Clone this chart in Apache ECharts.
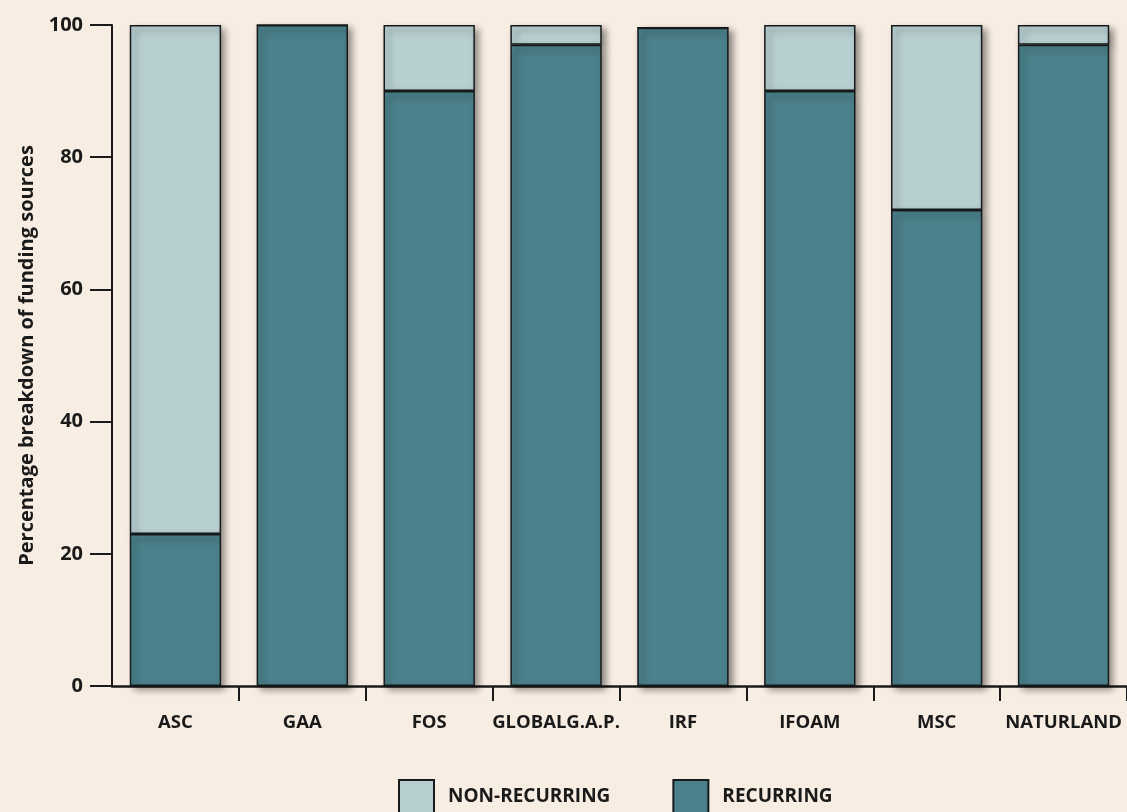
<!DOCTYPE html>
<html>
<head>
<meta charset="utf-8">
<script src="https://cdn.jsdelivr.net/npm/echarts@6/dist/echarts.min.js"></script>
<style>
html,body{margin:0;padding:0;background:#f8ede3;}
#chart{width:1127px;height:812px;}
</style>
</head>
<body>
<div id="chart"></div>
<script>
const categories = ['ASC','GAA','FOS','GLOBALG.A.P.','IRF','IFOAM','MSC','NATURLAND'];
const recurring = [23, 100, 90, 97, 99.6, 90, 72, 97];
const nonRecurring = [77, 0, 10, 3, 0, 10, 28, 3];
const yTicks = [0, 20, 40, 60, 80, 100];
const seriesNames = ['NON-RECURRING', 'RECURRING'];
const yAxisTitle = 'Percentage breakdown of funding sources';

const ink = '#1a1a1a';
const font = "'Open Sans', 'Noto Sans', sans-serif";
const shadow = {shadowColor:'rgba(0,0,0,0.45)', shadowBlur:7, shadowOffsetX:4, shadowOffsetY:4};

const chart = echarts.init(document.getElementById('chart'), null, {renderer:'canvas'});
chart.setOption({
  backgroundColor:'#f8ede3',
  animation:false,
  grid:{left:112, right:-1, top:25, bottom:126, containLabel:false},
  legend:{
    data:seriesNames,
    left:393, top:774,
    itemWidth:35, itemHeight:33, itemGap:62,
    icon:'rect',
    textStyle:{fontFamily:font, fontWeight:'bold', fontSize:19, color:ink, padding:[0,0,0,9]}
  },
  xAxis:{
    type:'category',
    data:categories,
    axisLine:{show:true, lineStyle:{color:ink, width:2.5}},
    axisTick:{show:true, length:15, lineStyle:{color:ink, width:2}, interval:function(i){return i!==0;}},
    axisLabel:{fontFamily:font, fontWeight:'bold', fontSize:18.5, color:ink, margin:27, interval:0},
    splitLine:{show:false}
  },
  yAxis:{
    type:'value',
    min:yTicks[0], max:yTicks[yTicks.length-1], interval:20,
    name:yAxisTitle,
    nameLocation:'middle',
    nameGap:70,
    nameRotate:90,
    nameTextStyle:{fontFamily:font, fontWeight:'bold', fontSize:20, color:ink},
    axisLine:{show:true, lineStyle:{color:ink, width:2}},
    axisTick:{show:true, length:22, lineStyle:{color:ink, width:2}},
    axisLabel:{fontFamily:font, fontWeight:'bold', fontSize:20, color:ink, margin:29, padding:[0,0,8,0]},
    splitLine:{show:false}
  },
  series:[
    {
      name:seriesNames[1],
      type:'bar',
      stack:'total',
      data:recurring,
      barWidth:'72%',
      z:3,
      itemStyle:Object.assign({color:'#4b818b', borderColor:'#161a1b', borderWidth:1.5}, shadow)
    },
    {
      name:seriesNames[0],
      type:'bar',
      stack:'total',
      data:nonRecurring,
      barWidth:'72%',
      z:2,
      itemStyle:Object.assign({color:'#b8cfd2', borderColor:'#161a1b', borderWidth:1.5}, shadow)
    }
  ]
});
</script>
</body>
</html>
